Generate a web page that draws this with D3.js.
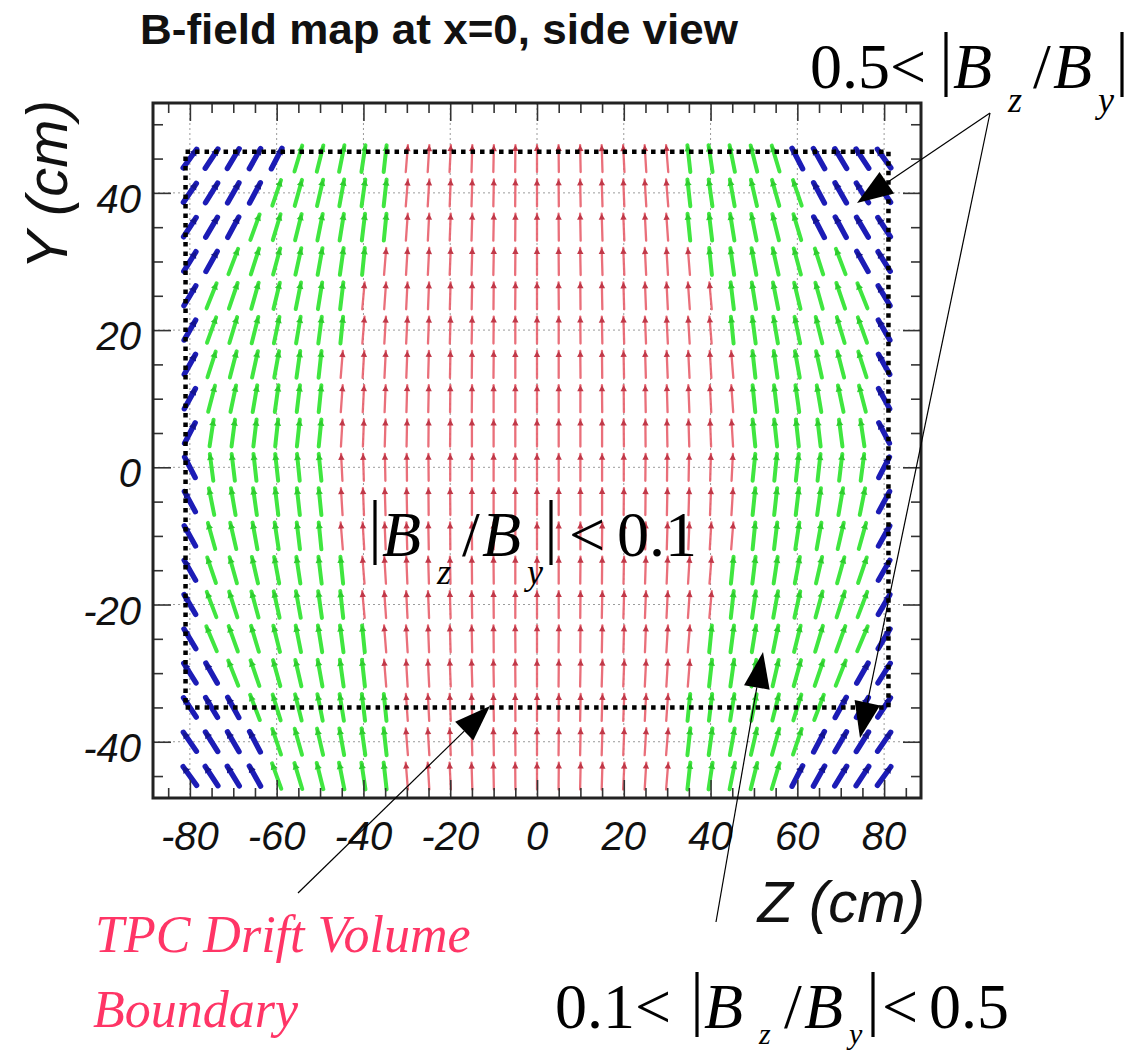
<!DOCTYPE html>
<html><head><meta charset="utf-8">
<script src="https://cdn.jsdelivr.net/npm/d3@7"></script>
<style>body{margin:0;background:#fff}</style>
</head><body>
<svg id="chart" width="1136" height="1051"></svg>
<script>
// Field sample grid (cm)
const zCols = [-80,-75,-70,-65,-60,-55,-50,-45,-40,-35,-30,-25,-20,-15,-10,-5,0,5,10,15,20,25,30,35,40,45,50,55,60,65,70,75,80];
const yRows = [45,40,35,30,25,20,15,10,5,0,-5,-10,-15,-20,-25,-30,-35,-40,-45];
// Bz/By in percent, one row per yRows entry, one value per zCols entry
const bzByRows = [
  [72,66,60,56,52,30,25,20,15,11,8,6,5,3,2,1,0, -1,-2,-3,-5,-6,-8,-11,-15,-20,-25,-30,-52,-56,-60,-66,-72],
  [68,62,57,53,34,28,23,18,14,11,8,6,4,3,2,1,0, -1,-2,-3,-4,-6,-8,-11,-14,-18,-23,-28,-34,-53,-57,-62,-68],
  [65,59,54,36,30,25,20,16,12,10,7,5,4,3,2,1,0, -1,-2,-3,-4,-5,-7,-10,-12,-16,-20,-25,-30,-52,-54,-59,-65],
  [62,56,38,32,27,22,18,14,10,8,6,5,4,3,2,1,0, -1,-2,-3,-4,-5,-6,-8,-10,-14,-18,-22,-27,-32,-38,-56,-62],
  [60,40,34,28,24,20,16,12,9,7,5,4,3,2,1,1,0, -1,-1,-2,-3,-4,-5,-7,-9,-12,-16,-20,-24,-28,-34,-40,-60],
  [58,36,30,25,21,17,13,10,8,6,5,4,3,2,1,0,0, 0,-1,-2,-3,-4,-5,-6,-8,-10,-13,-17,-21,-25,-30,-36,-58],
  [56,32,26,22,18,14,11,8,6,5,4,3,2,1,1,0,0, 0,-1,-1,-2,-3,-4,-5,-6,-8,-11,-14,-18,-22,-26,-32,-56],
  [55,26,21,17,14,12,10,7,5,4,3,2,1,1,0,0,0, 0,0,-1,-1,-2,-3,-4,-5,-7,-10,-12,-14,-17,-21,-26,-55],
  [52,15,13,12,11,11,10,6,4,3,2,1,1,0,0,0,0, 0,0,0,-1,-1,-2,-3,-4,-6,-10,-11,-11,-12,-13,-15,-52],
  [-52,-13,-12,-11,-11,-10,-10,-5,-3,-2,-1,-1,0,0,0,0,0, 0,0,0,0,1,1,2,3,5,10,10,11,11,12,13,52],
  [-54,-20,-17,-14,-12,-11,-10,-6,-4,-3,-2,-1,-1,0,0,0,0, 0,0,0,1,1,2,3,4,6,10,11,12,14,17,20,54],
  [-56,-28,-23,-18,-15,-12,-10,-8,-6,-4,-3,-2,-1,-1,0,0,0, 0,0,1,1,2,3,4,6,8,10,12,15,18,23,28,56],
  [-57,-34,-28,-23,-19,-15,-12,-10,-8,-6,-4,-3,-2,-1,-1,0,0, 0,1,1,2,3,4,6,8,10,12,15,19,23,28,34,57],
  [-58,-38,-32,-27,-22,-18,-14,-11,-9,-7,-5,-4,-3,-2,-1,0,0, 0,1,2,3,4,5,7,9,11,14,18,22,27,32,38,58],
  [-60,-42,-36,-30,-25,-20,-16,-13,-10,-8,-6,-4,-3,-2,-1,-1,0, 1,1,2,3,4,6,8,10,13,16,20,25,30,36,42,60],
  [-63,-57,-40,-34,-28,-23,-18,-14,-11,-8,-6,-5,-4,-3,-2,-1,0, 1,2,3,4,5,6,8,11,14,18,23,28,34,40,57,63],
  [-66,-60,-55,-38,-31,-25,-20,-16,-12,-10,-7,-5,-4,-3,-2,-1,0, 1,2,3,4,5,7,10,12,16,20,25,31,38,55,60,66],
  [-69,-63,-58,-53,-34,-28,-23,-18,-14,-11,-8,-6,-4,-3,-2,-1,0, 1,2,3,4,6,8,11,14,18,23,28,34,53,58,63,69],
  [-72,-66,-61,-56,-36,-30,-25,-20,-15,-11,-8,-6,-5,-3,-2,-1,0, 1,2,3,5,6,8,11,15,20,25,30,52,56,61,66,72]
];
// TPC drift volume boundary (cm)
const tpcZ = [-81, 81];
const tpcY = [-35, 46];
// Axis ticks
const zMajor = [-80,-60,-40,-20,0,20,40,60,80];
const yMajor = [-40,-20,0,20,40];
const zMinor = [-85,-75,-70,-65,-55,-50,-45,-35,-30,-25,-15,-10,-5,5,10,15,25,30,35,45,50,55,65,70,75,85];
const yMinor = [-45,-35,-30,-25,-15,-10,-5,5,10,15,25,30,35,45,50];

const svg = d3.select('#chart');
const x = d3.scaleLinear().domain([-88.5, 88.5]).range([153, 921]);
const y = d3.scaleLinear().domain([-48.2, 53.1]).range([798, 103]);
const X0 = x.range()[0], X1 = x.range()[1], Y0 = y.range()[1], Y1 = y.range()[0];

const sans = "'Liberation Sans', Arial, Helvetica, sans-serif";
const serif = "'Liberation Serif', 'Times New Roman', serif";

// title
svg.append('text').attr('x', 140).attr('y', 44)
  .attr('font-family', sans).attr('font-weight', 'bold').attr('font-size', 43)
  .attr('textLength', 598).attr('lengthAdjust', 'spacingAndGlyphs')
  .attr('fill', '#111').text('B-field map at x=0, side view');

// grid
const grid = svg.append('g').attr('stroke', '#9a9a9a').attr('stroke-width', 1).attr('stroke-dasharray', '2,3');
grid.selectAll('.gz').data(zMajor).join('line')
  .attr('x1', d => x(d)).attr('x2', d => x(d)).attr('y1', Y0).attr('y2', Y1);
grid.selectAll('.gy').data(yMajor).join('line')
  .attr('y1', d => y(d)).attr('y2', d => y(d)).attr('x1', X0).attr('x2', X1);

// field arrows, coloured by |Bz/By| class
const classOf = r => Math.abs(r) < 0.1 ? 0 : (Math.abs(r) < 0.5 ? 1 : 2);
const style = [
  {stroke: '#e8606c', head: '#c03848', w: 2.3, len: 27, op: 0.9},
  {stroke: '#40e640', head: '#2fcc2f', w: 4.0, len: 27, op: 1},
  {stroke: '#1c1cb6', head: '#14148f', w: 5.4, len: 23, op: 1}
];
const cells = [];
yRows.forEach((yy, i) => zCols.forEach((zz, j) => cells.push({z: zz, y: yy, r: bzByRows[i][j] / 100})));
const ag = svg.append('g');
cells.forEach(c => {
  const s = style[classOf(c.r)];
  const L = s.len;
  const th = Math.atan(c.r);
  const dx = Math.sin(th), dy = -Math.cos(th);
  const cx = x(c.z), cy = y(c.y);
  const tx = cx + dx * L / 2, ty = cy + dy * L / 2;
  ag.append('line')
    .attr('x1', cx - dx * L / 2).attr('y1', cy - dy * L / 2)
    .attr('x2', tx).attr('y2', ty)
    .attr('stroke', s.stroke).attr('stroke-width', s.w).attr('stroke-linecap', 'round').attr('opacity', s.op);
  const hl = 6, hw = 2.6 + s.w * 0.25;
  const bx = tx - dx * hl, by = ty - dy * hl;
  ag.append('path')
    .attr('d', `M${tx},${ty}L${bx - dy * hw},${by + dx * hw}L${bx + dy * hw},${by - dx * hw}Z`)
    .attr('fill', s.head);
});

// TPC boundary
svg.append('rect')
  .attr('x', x(tpcZ[0])).attr('y', y(tpcY[1]))
  .attr('width', x(tpcZ[1]) - x(tpcZ[0])).attr('height', y(tpcY[0]) - y(tpcY[1]))
  .attr('fill', 'none').attr('stroke', '#000').attr('stroke-width', 4.5).attr('stroke-dasharray', '4.5,5');

// ticks on all four sides, pointing inward
function tickAxis(axisFn, scale, vals, size, tr) {
  const a = axisFn(scale).tickValues(vals).tickSize(-size).tickFormat('');
  const g = svg.append('g').attr('transform', tr).call(a);
  g.select('.domain').remove();
  g.selectAll('line').attr('stroke', '#333').attr('stroke-width', 1.6);
}
tickAxis(d3.axisBottom, x, zMinor, 10, `translate(0,${Y1})`);
tickAxis(d3.axisBottom, x, zMajor, 18, `translate(0,${Y1})`);
tickAxis(d3.axisTop, x, zMinor, 10, `translate(0,${Y0})`);
tickAxis(d3.axisTop, x, zMajor, 18, `translate(0,${Y0})`);
tickAxis(d3.axisLeft, y, yMinor, 10, `translate(${X0},0)`);
tickAxis(d3.axisLeft, y, yMajor, 18, `translate(${X0},0)`);
tickAxis(d3.axisRight, y, yMinor, 10, `translate(${X1},0)`);
tickAxis(d3.axisRight, y, yMajor, 18, `translate(${X1},0)`);
svg.append('rect').attr('x', X0).attr('y', Y0).attr('width', X1 - X0).attr('height', Y1 - Y0)
  .attr('fill', 'none').attr('stroke', '#222').attr('stroke-width', 3);

// tick labels
const lab = svg.append('g').attr('font-family', sans).attr('font-style', 'italic').attr('font-size', 40).attr('fill', '#111');
lab.selectAll('.zl').data(zMajor).join('text')
  .attr('x', d => x(d)).attr('y', 850).attr('text-anchor', 'middle').text(d => String(d));
lab.selectAll('.yl').data(yMajor).join('text')
  .attr('x', 141).attr('y', d => y(d) + 20).attr('text-anchor', 'end').text(d => String(d));

// axis titles
svg.append('text').attr('x', 925).attr('y', 922).attr('text-anchor', 'end')
  .attr('font-family', sans).attr('font-style', 'italic').attr('font-size', 58).attr('fill', '#111').text('Z (cm)');
svg.append('text').attr('transform', 'translate(67,100) rotate(-90)').attr('text-anchor', 'end')
  .attr('font-family', sans).attr('font-style', 'italic').attr('font-size', 58).attr('fill', '#111').text('Y (cm)');

// ratio annotations
function mathLabel(x0, base, subDrop, subSize, parts) {
  const g = svg.append('g').attr('font-family', serif).attr('fill', '#000');
  parts.forEach(p => {
    if (p.bar) {
      g.append('line').attr('x1', x0 + p.at).attr('x2', x0 + p.at).attr('y1', base - 56).attr('y2', base + 9)
        .attr('stroke', '#000').attr('stroke-width', 3.2);
    } else {
      g.append('text').attr('x', x0 + p.at).attr('y', p.sub ? base + subDrop : base)
        .attr('font-size', p.sub ? subSize : 64).attr('font-style', p.it ? 'italic' : 'normal').text(p.t);
    }
  });
}
const ratioParts = [
  {bar: true, at: 0}, {t: 'B', it: true, at: 7}, {t: 'z', it: true, sub: true, at: 62},
  {t: '/', at: 87}, {t: 'B', it: true, at: 107}, {t: 'y', it: true, sub: true, at: 152},
  {bar: true, at: 176}
];
const shift = (arr, d) => arr.map(p => Object.assign({}, p, {at: p.at + d}));
mathLabel(810, 88, 24, 36, [{t: '0.5<', at: 0}].concat(shift(ratioParts, 136)));
mathLabel(375, 556, 28, 36, ratioParts.concat([{t: '<', at: 194}, {t: '0.1', at: 242}]));
mathLabel(555, 1028, 16, 30, [{t: '0.1<', at: 0}].concat(shift(ratioParts, 142), [{t: '<', at: 327}, {t: '0.5', at: 374}]));

// TPC label
const tpc = svg.append('g').attr('font-family', serif).attr('font-style', 'italic').attr('font-size', 52).attr('fill', '#ff3566');
tpc.append('text').attr('x', 95).attr('y', 952).text('TPC Drift Volume');
tpc.append('text').attr('x', 93).attr('y', 1027).text('Boundary');

// pointer arrows
function pointer(x1, y1, x2, y2) {
  const a = Math.atan2(y2 - y1, x2 - x1);
  const hl = 36, hw = 13;
  const bx = x2 - Math.cos(a) * hl, by = y2 - Math.sin(a) * hl;
  svg.append('line').attr('x1', x1).attr('y1', y1).attr('x2', bx).attr('y2', by)
    .attr('stroke', '#000').attr('stroke-width', 1.2);
  svg.append('path')
    .attr('d', `M${x2},${y2}L${bx - Math.sin(a) * hw},${by + Math.cos(a) * hw}L${bx + Math.sin(a) * hw},${by - Math.cos(a) * hw}Z`)
    .attr('fill', '#000');
}
pointer(990, 113, 857, 203);
pointer(990, 113, 860, 738);
pointer(716, 922, 763, 652);
pointer(298, 893, 490, 706);
</script>
</body></html>
